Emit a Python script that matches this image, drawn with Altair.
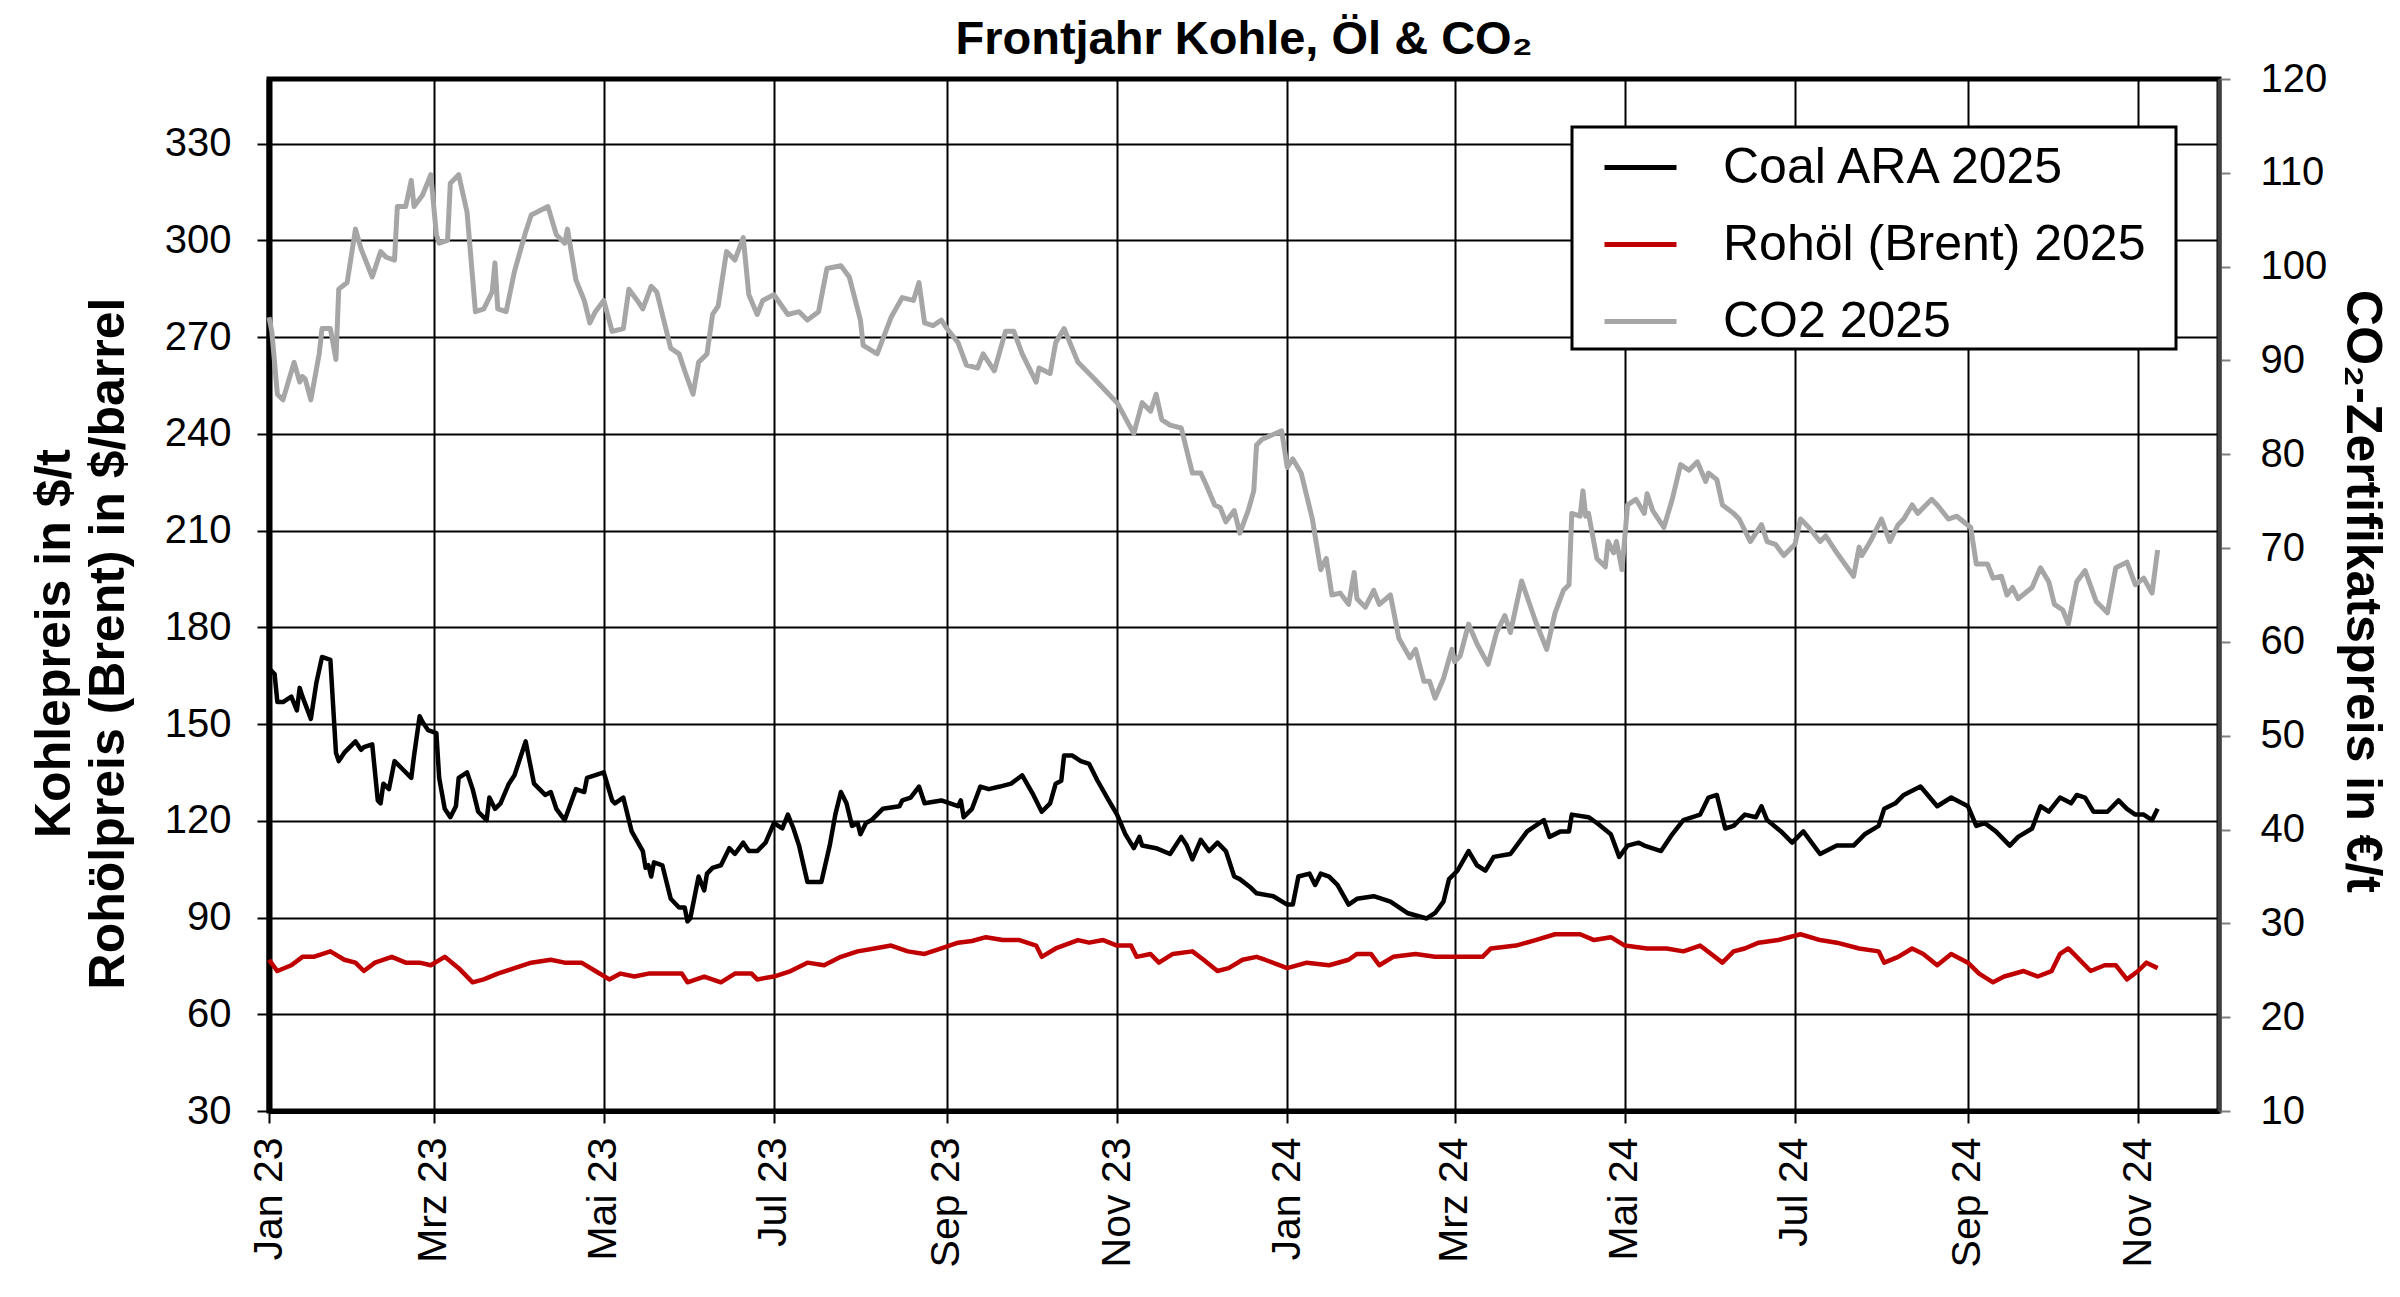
import altair as alt
import numpy as np
import pandas as pd

FONT = "Liberation Sans, Arial, Helvetica, sans-serif"
START = "2023-01-01"

# ---------------- data ----------------
series_names = ["Coal ARA 2025", "Rohöl (Brent) 2025", "CO2 2025"]
series_colors = ["#000000", "#C00000", "#A6A6A6"]

# days after 2023-01-01, $/t
coal_days = [0, 2, 3, 5, 8, 10, 11, 12, 15, 17, 19, 22, 24, 25, 27, 31, 33, 34, 37, 39,
             40, 41, 43, 45, 48, 51, 52, 54, 55, 57, 60, 61, 63, 65, 67, 68, 71, 73, 75, 78,
             79, 81, 83, 86, 88, 92, 93, 95, 99, 101, 103, 106, 110, 113, 114, 120, 123, 124, 127, 130,
             134, 135, 136, 137, 138, 141, 144, 147, 149, 150, 151, 154, 156, 157, 159, 162, 165, 167, 170, 172,
             175,
             178, 181, 184, 186, 188, 190, 193, 198, 201, 203, 205, 207, 209, 211, 212, 214, 216, 220, 226, 227,
             230, 233, 235, 241, 247, 248, 249, 252, 255, 258, 262, 266, 270, 274, 277, 280, 282, 284, 285, 288,
             291, 294, 297, 301, 304, 307, 310, 312, 313, 318, 323, 327, 329, 331, 334, 337, 340, 343, 346, 348,
             352,
             354, 360, 365, 367, 369, 373, 375, 377, 380, 383, 387, 390, 396, 402, 408, 415, 418, 421, 423, 426,
             430, 433, 436, 439, 445, 451, 457, 459, 463, 466, 467, 473, 476, 481, 484, 487, 491, 493, 499, 503,
             507, 513, 516, 519, 522, 525,
             529, 533, 535, 537, 542, 546, 550, 556, 562, 568, 572, 577, 579, 583, 586, 592, 598, 603, 609, 612,
             615, 619, 624, 627, 632, 635, 638, 642, 646, 648, 651, 654, 659, 663, 666, 669, 672, 675, 677]
coal_vals = [167.3, 165.5, 156.8, 156.8, 158.5, 154.2, 161.2, 158.5, 151.6, 162.9,
             170.8, 169.9, 141.1, 138.5, 141.1, 144.6, 142.0, 142.8, 143.7, 126.3,
             125.4, 131.5, 129.8, 138.5, 135.9, 133.3, 140.2, 152.4, 150.7, 148.1,
             147.2, 133.3, 123.7, 121.1, 124.5, 133.3, 135.0, 129.8, 122.8, 120.2,
             127.2, 123.7, 125.4, 131.5, 134.1, 144.6, 140.2, 131.5, 128.0, 128.9,
             123.7, 120.2, 129.8, 128.9, 133.3, 135.0, 126.3, 125.4, 127.2, 116.7,
             110.6, 105.4, 106.2, 102.7, 107.1, 106.2, 95.8, 93.1, 93.1, 88.8,
             89.7, 102.7, 98.4, 103.6, 105.4, 106.2, 111.5, 109.7, 113.2, 110.6,
             110.6,
             113.2, 119.3, 117.6, 121.9, 117.6, 112.3, 101.0, 101.0, 112.3, 121.9,
             128.9, 125.4, 118.4, 119.3, 115.8, 119.3, 120.2, 123.7, 124.5, 126.3,
             127.2, 130.6, 125.4, 126.3, 124.5, 126.3, 121.1, 123.7, 130.6, 129.8,
             130.6, 131.5, 134.1, 128.0, 122.8, 125.4, 131.5, 132.4, 140.2, 140.2,
             138.5, 137.6, 132.4, 126.3, 121.9, 115.8, 111.5, 115.0, 112.3, 111.5,
             109.7, 115.0, 112.3, 108.0, 114.1, 110.6, 113.2, 110.6, 102.7, 101.9,
             99.2,
             97.5, 96.6, 94.0, 94.0, 102.7, 103.6, 100.1, 103.6, 102.7, 100.1,
             94.0, 95.8, 96.6, 94.9, 91.4, 89.7, 91.4, 94.9, 101.9, 104.5,
             110.6, 106.2, 104.5, 108.8, 109.7, 116.7, 120.2, 115.0, 116.7, 116.7,
             121.9, 121.1, 119.3, 115.8, 108.8, 112.3, 113.2, 112.3, 110.6, 115.8,
             120.2, 121.9, 127.2, 128.0, 117.6, 118.4,
             121.9, 121.1, 124.5, 120.2, 116.7, 113.2, 116.7, 109.7, 112.3, 112.3,
             115.8, 118.4, 123.7, 125.4, 128.0, 130.6, 124.5, 127.2, 124.5, 118.4,
             119.3, 116.7, 112.3, 115.0, 117.6, 124.5, 122.8, 127.2, 125.4, 128.0,
             127.2, 122.8, 122.8, 126.3, 123.7, 121.9, 121.9, 120.2, 123.7]

# days after 2023-01-01, $/barrel
oil_days = [0, 3, 8, 12, 16, 22, 27, 31, 34, 38, 44, 49, 54, 58, 63, 68, 73, 77, 82, 88,
            94, 101, 106, 112, 117, 122, 126, 131, 136, 142, 148, 150, 156, 162, 167, 173,
            175, 181, 187, 193, 199, 205, 211, 217, 223, 229, 235, 241, 247, 252, 257, 263, 269, 275, 277, 282,
            290, 294, 299, 304, 309, 311, 316, 319, 324, 331, 335, 340, 344, 349, 354,
            357, 365, 372, 380, 387, 390, 395, 398, 403, 411, 418, 425, 435, 438, 447, 454, 461, 470, 475, 481,
            486, 494, 501, 507, 513, 521, 525,
            529, 534, 541, 549, 556, 562, 570, 577, 579, 584, 589, 593, 598, 603, 609, 613, 618, 622, 629, 634,
            639, 642, 645, 648, 653, 658, 662, 666, 670, 673, 677]
oil_vals = [76.9, 73.4, 75.2, 77.8, 77.8, 79.5, 76.9, 76.0, 73.4, 76.0,
            77.8, 76.0, 76.0, 75.2, 77.8, 74.3, 69.9, 70.8, 72.6, 74.3,
            76.0, 76.9, 76.0, 76.0, 73.4, 70.8, 72.6, 71.7, 72.6, 72.6,
            72.6, 69.9, 71.7, 69.9, 72.6, 72.6,
            70.8, 71.7, 73.4, 76.0, 75.2, 77.8, 79.5, 80.4, 81.3, 79.5,
            78.7, 80.4, 82.2, 82.7, 83.9, 83.0, 83.0, 81.3, 77.8, 80.4,
            83.0, 82.2, 83.0, 81.3, 81.3, 77.8, 78.7, 76.0, 78.7, 79.5,
            76.9, 73.4, 74.3, 76.9, 77.8,
            76.9, 74.3, 76.0, 75.2, 76.9, 78.7, 78.7, 75.2, 77.8, 78.7,
            77.8, 77.8, 77.8, 80.4, 81.3, 83.0, 84.8, 84.8, 83.0, 83.9,
            81.3, 80.4, 80.4, 79.5, 81.3, 76.0, 79.5,
            80.4, 82.2, 83.0, 84.8, 83.0, 82.2, 80.4, 79.5, 76.0, 77.8,
            80.4, 78.7, 75.2, 78.7, 76.0, 72.6, 69.9, 71.7, 73.4, 71.7,
            73.4, 78.7, 80.4, 77.8, 73.4, 75.2, 75.2, 70.8, 73.4, 76.0,
            74.3]

# days after 2023-01-01, EUR/t
co2_days = [0, 1, 3, 5, 9, 11, 12, 13, 15, 18, 19, 22, 24, 25, 28, 31, 33, 37, 40, 42,
            45, 46, 49, 51, 52, 55, 58, 60, 61, 64, 65, 68, 71, 74, 77, 80, 81, 82, 85, 88,
            92, 94, 100, 103, 106, 107, 110, 113, 115, 117, 120, 123, 127, 129, 132, 134, 137, 139, 144, 147,
            149, 152, 154, 157, 159, 161, 164, 167, 170, 172, 175,
            177, 181, 186, 190, 193, 197, 200, 205, 208, 212, 213, 218, 223, 227, 231, 233, 235, 238, 241, 243,
            247, 250, 254, 256, 260, 264, 267, 270, 275, 276, 280, 282, 285, 290, 296, 302, 304, 310, 313, 316,
            318, 320, 323, 327, 331, 334, 336, 339, 341, 343, 346, 348, 351, 353, 354,
            356, 363, 365, 367, 370, 374, 377, 379, 381, 384, 387, 389, 390, 393, 396, 398, 402, 405, 409, 411,
            414, 416, 418, 421, 424, 425, 427, 430, 433, 437, 440, 443, 445, 449, 454, 458, 461, 464, 466, 467,
            470, 471, 472, 473, 476, 479, 480, 482, 483, 485, 487, 490, 493, 494, 496, 500, 503, 506, 509, 512,
            515, 516, 519, 521, 525,
            527, 531, 535, 537, 540, 543, 547, 549, 552, 556, 558, 562, 568, 570, 571, 574, 578, 581, 584, 586,
            589, 591, 596, 598, 602, 605, 610, 612, 616, 618, 621, 623, 625, 627, 632, 635, 638, 640, 643, 645,
            648, 651, 655, 659, 662, 666, 669, 672, 675, 677]
co2_vals = [94.6, 93.1, 86.4, 85.8, 89.8, 87.7, 88.3, 88.0, 85.8, 90.7,
            93.4, 93.4, 90.1, 97.6, 98.3, 104.0, 101.9, 98.9, 101.6, 101.0,
            100.7, 106.4, 106.4, 109.2, 106.4, 107.6, 109.8, 103.4, 102.5, 102.8,
            108.9, 109.8, 105.8, 95.2, 95.5, 97.3, 100.4, 95.5, 95.2, 99.5,
            103.7, 105.5, 106.4, 103.4, 102.5, 104.0, 98.6, 96.4, 94.0, 95.2,
            96.4, 93.1, 93.4, 97.6, 96.4, 95.5, 97.9, 97.3, 91.3, 90.7,
            88.9, 86.4, 89.8, 90.7, 94.9, 95.8, 101.6, 100.7, 103.1, 97.0,
            94.9,
            96.4, 97.0, 94.9, 95.2, 94.3, 95.2, 99.8, 100.1, 98.9, 94.3,
            91.6, 90.7, 94.6, 96.7, 96.4, 98.3, 94.0, 93.7, 94.3, 93.4,
            91.9, 89.5, 89.2, 90.7, 88.9, 93.1, 93.1, 90.7, 87.7, 89.2,
            88.6, 91.9, 93.4, 89.8, 88.0, 86.1, 85.5, 82.2, 85.5, 84.6,
            86.4, 83.7, 83.1, 82.8, 78.0, 78.0, 76.7, 74.6, 74.3, 72.8,
            74.0, 71.6, 74.0, 76.1, 81.0,
            81.6, 82.5, 78.6, 79.5, 78.0, 73.1, 67.7, 68.9, 65.0, 65.2,
            64.0, 67.4, 64.6, 63.7, 65.5, 64.0, 65.0, 60.4, 58.3, 59.2,
            55.8, 55.8, 54.0, 56.1, 59.2, 57.9, 58.5, 61.9, 59.8, 57.6,
            61.0, 62.8, 61.0, 66.5, 62.2, 59.2, 63.1, 65.5, 66.1, 73.7,
            73.4, 76.1, 73.4, 73.7, 68.9, 68.0, 70.7, 69.5, 70.7, 67.7,
            74.6, 75.2, 73.7, 75.8, 74.0, 72.2, 75.2, 78.9, 78.3, 79.2,
            77.1, 78.0, 77.3, 74.6, 73.7,
            73.1, 70.7, 72.5, 70.7, 70.4, 69.2, 70.4, 73.1, 72.2, 70.7,
            71.3, 69.5, 67.0, 70.1, 69.2, 70.7, 73.1, 70.7, 72.5, 73.1,
            74.6, 73.7, 75.2, 74.6, 73.1, 73.4, 72.2, 68.3, 68.3, 66.8,
            67.0, 65.0, 65.8, 64.6, 65.8, 67.9, 66.4, 64.0, 63.4, 61.9,
            66.4, 67.6, 64.3, 63.1, 67.9, 68.5, 66.1, 66.8, 65.2, 69.8]

x_domain = ["2023-01-01", "2024-11-30"]
x_tick_dates = ["2023-01-01", "2023-03-01", "2023-05-01", "2023-07-01", "2023-09-01", "2023-11-01",
                "2024-01-01", "2024-03-01", "2024-05-01", "2024-07-01", "2024-09-01", "2024-11-01"]
month_abbr_de = ["Jan", "Feb", "Mrz", "Apr", "Mai", "Jun", "Jul", "Aug", "Sep", "Okt", "Nov", "Dez"]
left_ticks = [30, 60, 90, 120, 150, 180, 210, 240, 270, 300, 330]
left_domain = [30, 350]
right_ticks = [10, 20, 30, 40, 50, 60, 70, 80, 90, 100, 110, 120]
right_domain = [10, 120]

title_text = "Frontjahr Kohle, Öl & CO₂"
left_title = ["Kohlepreis in $/t", "Rohölpreis (Brent) in $/barrel"]
right_title = "CO₂-Zertifikatspreis in €/t"

# ---------------- tables ----------------
assert len(coal_days) == len(coal_vals)
assert len(oil_days) == len(oil_vals)
assert len(co2_days) == len(co2_vals)


def to_dates(days):
    return (np.datetime64(START) + np.array(days).astype("timedelta64[D]")).astype(str).tolist()


def ms(s):
    return int(pd.Timestamp(s, tz="UTC").value // 10**6)


left_df = pd.concat([
    pd.DataFrame({"date": to_dates(coal_days), "value": coal_vals,
                  "series": series_names[0], "idx": range(len(coal_days))}),
    pd.DataFrame({"date": to_dates(oil_days), "value": oil_vals,
                  "series": series_names[1], "idx": range(len(oil_days))}),
], ignore_index=True)
co2_df = pd.DataFrame({"date": to_dates(co2_days), "value": co2_vals,
                       "series": series_names[2], "idx": range(len(co2_days))})

label_expr = ("[" + ",".join(f"'{m}'" for m in month_abbr_de) + "][utcmonth(datum.value)]"
              " + ' ' + utcFormat(datum.value, '%y')")

x_enc = alt.X(
    "date:T",
    scale=alt.Scale(type="utc", domain=[ms(d) for d in x_domain], nice=False),
    axis=alt.Axis(
        values=[ms(d) for d in x_tick_dates], labelExpr=label_expr, labelAngle=270,
        labelFontSize=41, labelColor="#000000", labelPadding=14, labelFlush=False,
        labelOverlap=False, tickSize=12, tickWidth=2, tickColor="#000000",
        domainColor="#000000", domainWidth=5, grid=True, gridColor="#000000",
        gridWidth=2, title=None,
    ),
)

color_enc = alt.Color(
    "series:N",
    scale=alt.Scale(domain=series_names, range=series_colors),
    legend=alt.Legend(
        title=None, orient="none", legendX=1303, legendY=48, direction="vertical",
        symbolType="stroke", symbolSize=5184, symbolStrokeWidth=5, symbolOffset=28,
        labelFontSize=50, labelColor="#000000", labelOffset=44, labelLimit=2000,
        labelExpr="datum.label + '\u00a0\u00a0\u200b'",
        padding=2, rowPadding=13, strokeColor="#000000", fillColor="#FFFFFF",
    ),
)

left_layer = alt.Chart(left_df).mark_line(strokeWidth=4.5, strokeJoin="round").encode(
    x=x_enc,
    y=alt.Y(
        "value:Q",
        scale=alt.Scale(domain=left_domain, nice=False, zero=False),
        axis=alt.Axis(
            orient="left", values=left_ticks, title=left_title, titleFontSize=50,
            titleFontWeight="bold", titleColor="#000000", titleAngle=270,
            titleX=-215, titleY=564, titleAlign="center", titleBaseline="middle",
            titleLineHeight=54, labelFontSize=40, labelColor="#000000", labelPadding=26,
            tickSize=12, tickWidth=2, tickColor="#000000", domainColor="#000000",
            domainWidth=6, grid=True, gridColor="#000000", gridWidth=2,
        ),
    ),
    color=color_enc,
    detail="series:N",
    order="idx:Q",
)

co2_layer = alt.Chart(co2_df).mark_line(strokeWidth=5, strokeJoin="round").encode(
    x=x_enc,
    y=alt.Y(
        "value:Q",
        scale=alt.Scale(domain=right_domain, nice=False, zero=False),
        axis=alt.Axis(
            orient="right", values=right_ticks, title=right_title, titleFontSize=50,
            titleFontWeight="bold", titleColor="#000000", titleAngle=90,
            titleX=142, titleY=512, titleAlign="center", titleBaseline="middle",
            labelFontSize=40, labelColor="#000000", labelPadding=30,
            tickSize=11, tickWidth=2, tickColor="#7F7F7F", domainColor="#404040",
            domainWidth=4, grid=False,
        ),
    ),
    color=color_enc,
    order="idx:Q",
)

chart = alt.layer(left_layer, co2_layer).resolve_scale(y="independent").properties(
    width=1950,
    height=1032,
    title=alt.Title(text=title_text, fontSize=47, fontWeight="bold", font=FONT,
                    color="#000000", anchor="middle", frame="group", offset=-5),
    autosize=alt.AutoSizeParams(type="none"),
    padding={"left": 261, "top": 71, "right": 173, "bottom": 178},
).configure_axis(
    labelFont=FONT, titleFont=FONT,
).configure_legend(
    labelFont=FONT, strokeWidth=3,
).configure_view(
    stroke="#000000", strokeWidth=5,
)

chart.save("out.html", embed_options={"renderer": "svg", "actions": False})
